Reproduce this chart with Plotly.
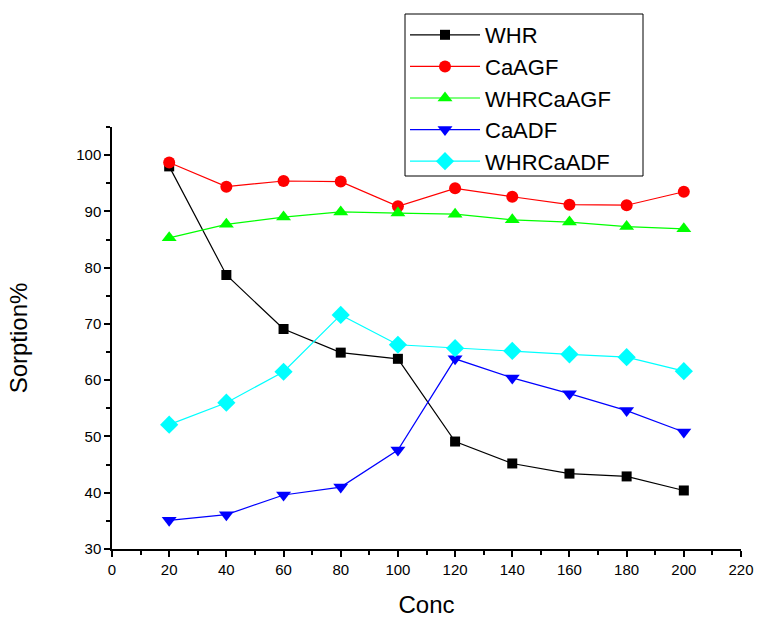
import plotly.graph_objects as go

conc = [20, 40, 60, 80, 100, 120, 140, 160, 180, 200]
whr = [98.0, 78.7, 69.1, 64.9, 63.8, 49.1, 45.2, 43.4, 42.9, 40.4]
caagf = [98.7, 94.4, 95.4, 95.3, 90.9, 94.1, 92.6, 91.2, 91.1, 93.5]
whrcaagf = [85.3, 87.7, 89.0, 89.9, 89.7, 89.5, 88.5, 88.1, 87.3, 86.9]
caadf = [35.1, 36.1, 39.6, 41.0, 47.6, 63.8, 60.4, 57.6, 54.6, 50.8]
whrcaadf = [52.1, 56.0, 61.5, 71.6, 66.3, 65.7, 65.2, 64.6, 64.1, 61.6]

series = [
    ("WHR", whr, "#000000", "square", 10),
    ("CaAGF", caagf, "#ff0000", "circle", 12),
    ("WHRCaAGF", whrcaagf, "#00ff00", "triangle-up", 13),
    ("CaADF", caadf, "#0000ff", "triangle-down", 13),
    ("WHRCaADF", whrcaadf, "#00ffff", "diamond", 14),
]

fig = go.Figure()
for name, vals, color, sym, size in series:
    fig.add_trace(go.Scatter(
        x=conc, y=vals, name=name, mode="lines+markers",
        line=dict(color=color, width=1.2),
        marker=dict(symbol=sym, size=size, color=color, line=dict(width=0)),
    ))

axis_common = dict(
    showgrid=False, zeroline=False, showline=True, linecolor="black", linewidth=1.5,
    ticks="outside", ticklen=6, tickwidth=1.5, tickcolor="black", automargin=False,
    tickfont=dict(family="Liberation Sans, Arial", size=15, color="black"),
)

W, H = 764, 618
L, R, T, B = 112, 23, 127, 69
PW, PH = W - L - R, H - T - B


def px_x(p):
    return (p - L) / PW


def px_y(p):
    return 1 - (p - T) / PH


fig.update_layout(
    width=W, height=H,
    paper_bgcolor="white", plot_bgcolor="white",
    margin=dict(l=L, r=R, t=T, b=B),
    font=dict(family="Liberation Sans, Arial", color="black"),
    xaxis=dict(range=[0, 220], dtick=20, tick0=0,
               minor=dict(dtick=10, ticklen=4, tickwidth=1.5, tickcolor="black", ticks="outside"),
               title=dict(text="Conc", font=dict(size=24), standoff=25),
               **axis_common),
    yaxis=dict(range=[30, 105], dtick=10, tick0=30,
               minor=dict(dtick=5, ticklen=4, tickwidth=1.5, tickcolor="black", ticks="outside"),
               title=dict(text="Sorption%", font=dict(size=24), standoff=42),
               **axis_common),
    legend=dict(
        x=px_x(405), y=px_y(14),
        xref="paper", yref="paper",
        xanchor="left", yanchor="top",
        borderwidth=0, bgcolor="rgba(0,0,0,0)",
        font=dict(family="Liberation Sans, Arial", size=22, color="black"),
        tracegroupgap=0, itemwidth=70,
    ),
    shapes=[dict(type="rect", xref="paper", yref="paper",
                 x0=px_x(405), x1=px_x(643), y0=px_y(176), y1=px_y(14),
                 line=dict(color="black", width=1), fillcolor="white", layer="above")],
)

fig.write_html("out.html")
